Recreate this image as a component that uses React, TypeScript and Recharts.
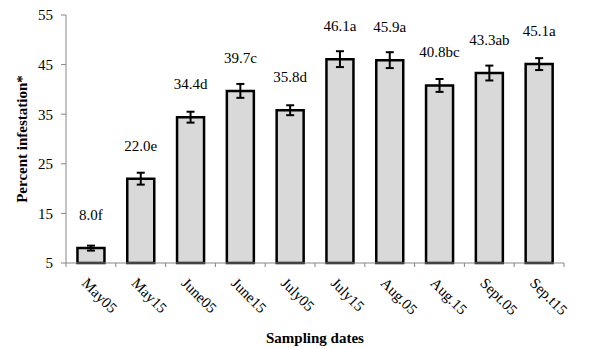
import React from "react";
import { BarChart, Bar, XAxis, YAxis, ErrorBar, LabelList } from "recharts";

const dates = ["May05", "May15", "June05", "June15", "July05", "July15", "Aug.05", "Aug.15", "Sept.05", "Sep.t15"];
const infestation = [8.0, 22.0, 34.4, 39.7, 35.8, 46.1, 45.9, 40.8, 43.3, 45.1];
const letters = ["f", "e", "d", "c", "d", "a", "a", "bc", "ab", "a"];
const stdErr = [0.5, 1.2, 1.1, 1.4, 1.0, 1.6, 1.6, 1.3, 1.5, 1.2];
const yTicks = [5, 15, 25, 35, 45, 55];

const AXIS = "#868686";
const FONT = "'Liberation Serif', 'Times New Roman', serif";
const TICK_LEN = 4;

const rows = dates.map((date, i) => ({
  date,
  value: infestation[i],
  err: stdErr[i],
  tag: `${infestation[i].toFixed(1)}${letters[i]}`,
}));

// date label slanted 45deg, plus the tick marks sitting on the category edges
const DateTick = (props: any) => {
  const { x, y, payload, index, width, visibleTicksCount } = props;
  const half = width / visibleTicksCount / 2;
  const top = y - TICK_LEN;
  return (
    <g>
      <line x1={x - half} x2={x - half} y1={top} y2={y} stroke={AXIS} />
      {index === visibleTicksCount - 1 && (
        <line x1={x + half} x2={x + half} y1={top} y2={y} stroke={AXIS} />
      )}
      <text
        x={x - 10}
        y={y + 17}
        transform={`rotate(45, ${x - 10}, ${y + 17})`}
        textAnchor="start"
        fontSize={15}
        fontFamily={FONT}
        fill="#000"
      >
        {payload.value}
      </text>
    </g>
  );
};

export default function App() {
  return (
    <div style={{ position: "absolute", left: 0, top: 0, background: "#fff", fontFamily: FONT }}>
      <BarChart
        width={589}
        height={349}
        data={rows}
        margin={{ top: 15, right: 25, left: 0, bottom: 0 }}
        barCategoryGap="23%"
        style={{ fontFamily: FONT }}
      >
        <XAxis
          dataKey="date"
          height={86}
          stroke={AXIS}
          tickLine={false}
          tickSize={TICK_LEN}
          tickMargin={0}
          interval={0}
          tick={<DateTick />}
          label={{
            value: "Sampling dates",
            position: "insideBottom",
            offset: 6,
            fill: "#000",
            fontSize: 15,
            fontWeight: "bold",
            fontFamily: FONT,
          }}
        />
        <YAxis
          domain={[5, 55]}
          ticks={yTicks}
          width={66}
          stroke={AXIS}
          tickSize={5}
          tickMargin={8}
          tick={{ fill: "#000", fontSize: 15, fontFamily: FONT }}
          label={{
            value: "Percent infestation*",
            angle: -90,
            position: "insideLeft",
            offset: 22,
            fill: "#000",
            fontSize: 15,
            fontWeight: "bold",
            fontFamily: FONT,
            style: { textAnchor: "middle" },
          }}
        />
        <Bar dataKey="value" fill="#d9d9d9" stroke="#000" strokeWidth={2.5} isAnimationActive={false}>
          <ErrorBar dataKey="err" direction="y" width={4} stroke="#000" strokeWidth={2} />
          <LabelList dataKey="tag" position="top" offset={28} fill="#000" fontSize={15} fontFamily={FONT} />
        </Bar>
      </BarChart>
    </div>
  );
}
